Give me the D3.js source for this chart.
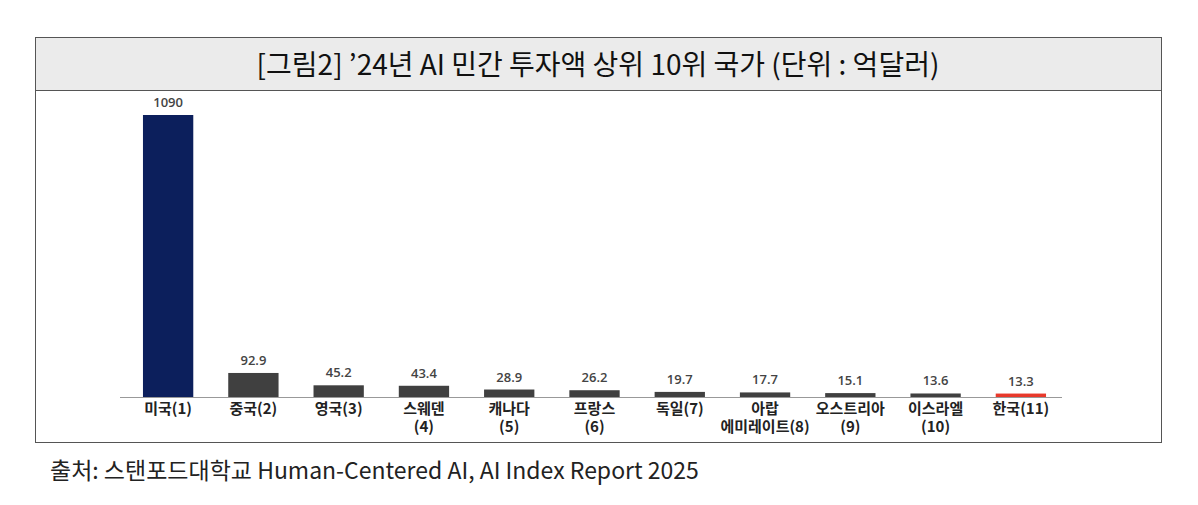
<!DOCTYPE html><html><head><meta charset="utf-8"><script src="https://cdn.jsdelivr.net/npm/d3@7"></script>
<style>body{margin:0;background:#fff}</style></head><body><svg id="c" width="1198" height="505"></svg>
<script>
const categories=[["미국(1)"],["중국(2)"],["영국(3)"],["스웨덴","(4)"],["캐나다","(5)"],["프랑스","(6)"],["독일(7)"],["아랍","에미레이트(8)"],["오스트리아","(9)"],["이스라엘","(10)"],["한국(11)"]];
const valueLabels=["1090","92.9","45.2","43.4","28.9","26.2","19.7","17.7","15.1","13.6","13.3"];
const values=[1090,92.9,45.2,43.4,28.9,26.2,19.7,17.7,15.1,13.6,13.3];
const colors=["#0c1f5c","#404040","#404040","#404040","#404040","#404040","#404040","#404040","#404040","#404040","#e8392b"];
const svg=d3.select("#c");
const F="'Noto Sans CJK KR','Noto Sans',sans-serif";
svg.append("rect").attr("x",35.5).attr("y",37.5).attr("width",1126).attr("height",405).attr("fill","#fff").attr("stroke","#555");
svg.append("rect").attr("x",36).attr("y",38).attr("width",1125).attr("height",52).attr("fill","#ebebeb");
svg.append("line").attr("x1",36).attr("x2",1161).attr("y1",90.5).attr("y2",90.5).attr("stroke","#555");
svg.append("text").attr("x",598).attr("y",75).attr("text-anchor","middle").attr("font-family",F).attr("font-size",28).attr("fill","#111").text("[그림2] ’24년 AI 민간 투자액 상위 10위 국가 (단위 : 억달러)");
const x=d3.scaleBand().domain(d3.range(values.length)).range([108,1081]).padding(0.41);
const y=d3.scaleLinear().domain([0,1090]).range([397,115]);
svg.selectAll(".b").data(values).join("rect").attr("x",(d,i)=>x(i)).attr("width",x.bandwidth()).attr("y",d=>y(d)).attr("height",d=>397-y(d)).attr("fill",(d,i)=>colors[i]);
svg.append("line").attr("x1",120).attr("x2",1062).attr("y1",397.5).attr("y2",397.5).attr("stroke","#999");
svg.selectAll(".v").data(values).join("text").attr("x",(d,i)=>x(i)+x.bandwidth()/2).attr("y",d=>y(d)-8).attr("text-anchor","middle").attr("font-family","'Open Sans',sans-serif").attr("font-weight","600").attr("font-size",13).attr("fill","#444").text((d,i)=>valueLabels[i]);
categories.forEach((c,i)=>{c.forEach((t,j)=>{svg.append("text").attr("x",x(i)+x.bandwidth()/2).attr("y",414+j*18).attr("text-anchor","middle").attr("font-family",F).attr("font-weight","bold").attr("font-size",15).attr("fill","#222").text(t);});});
svg.append("text").attr("x",50).attr("y",479).attr("font-family",F).attr("font-size",23).attr("fill","#222").text("출처: 스탠포드대학교 Human-Centered AI, AI Index Report 2025");
</script></body></html>
